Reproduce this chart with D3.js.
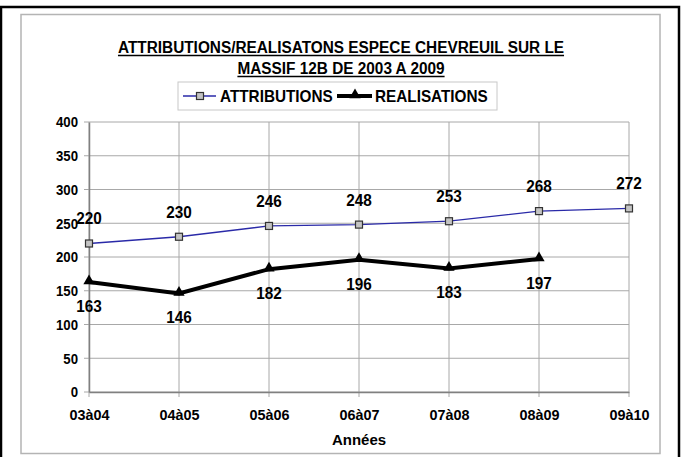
<!DOCTYPE html>
<html>
<head>
<meta charset="utf-8">
<script src="https://cdn.jsdelivr.net/npm/d3@7"></script>
<style>
  body { margin: 0; background: #fff; }
  text { font-family: "Liberation Sans", Arial, sans-serif; font-weight: bold; fill: #000; }
</style>
</head>
<body>
<div class="container"></div>
<script>
var years = ["03à04", "04à05", "05à06", "06à07", "07à08", "08à09", "09à10"];
var attributions = [220, 230, 246, 248, 253, 268, 272];
var realisations = [163, 146, 182, 196, 183, 197];
var yTicks = [0, 50, 100, 150, 200, 250, 300, 350, 400];

const WIDTH = 686;
const HEIGHT = 457;
const LEFT = 89, RIGHT = 629, TOP = 122, BOTTOM = 392;

// narrow the text a bit, the original font is condensed
var squeeze = function (sel, f) {
  sel.each(function () {
    var len = this.getComputedTextLength();
    d3.select(this).attr('textLength', len * f).attr('lengthAdjust', 'spacingAndGlyphs');
  });
};

var svg = d3.select('.container').append('svg')
  .attr('width', WIDTH)
  .attr('height', HEIGHT);

// outer frames
svg.append('rect')
  .attr('x', 1).attr('y', 7).attr('width', 678).attr('height', 460)
  .attr('fill', 'none').attr('stroke', '#000').attr('stroke-width', 2.5);
svg.append('rect')
  .attr('x', 21).attr('y', 14.5).attr('width', 639).attr('height', 439)
  .attr('fill', 'none').attr('stroke', '#b4b4b4').attr('stroke-width', 1.5);

var xScale = d3.scalePoint()
  .domain(years)
  .range([LEFT, RIGHT]);

var yScale = d3.scaleLinear()
  .domain([0, 400])
  .range([BOTTOM, TOP]);

// gridlines
svg.append('g')
  .selectAll('line')
  .data(yTicks)
  .enter().append('line')
  .attr('x1', LEFT - 5).attr('x2', RIGHT)
  .attr('y1', function(d){return yScale(d)})
  .attr('y2', function(d){return yScale(d)})
  .attr('stroke', '#a8a8a8').attr('stroke-width', 1);

svg.append('g')
  .selectAll('line')
  .data(years)
  .enter().append('line')
  .attr('x1', function(d){return xScale(d)})
  .attr('x2', function(d){return xScale(d)})
  .attr('y1', TOP).attr('y2', BOTTOM + 5)
  .attr('stroke', '#a8a8a8').attr('stroke-width', 1);

// axes
var xAxis = d3.axisBottom(xScale).tickSize(0).tickPadding(17);
var yAxis = d3.axisLeft(yScale).tickValues(yTicks).tickSize(0).tickPadding(11);

var gx = svg.append('g')
  .attr('transform', 'translate(0,' + BOTTOM + ')')
  .call(xAxis);
var gy = svg.append('g')
  .attr('transform', 'translate(' + LEFT + ',0)')
  .call(yAxis);
gx.select('.domain').attr('stroke', '#808080').attr('stroke-width', 1.5);
gy.select('.domain').attr('stroke', '#808080').attr('stroke-width', 1.5);
gx.selectAll('text').attr('font-size', 15).attr('font-family', null).attr('dy', '0.71em');
gy.selectAll('text').attr('font-size', 15).attr('font-family', null);
squeeze(gx.selectAll('text'), 0.96);
squeeze(gy.selectAll('text'), 0.88);

svg.append('text')
  .attr('x', (LEFT + RIGHT) / 2).attr('y', 445)
  .attr('text-anchor', 'middle').attr('font-size', 15)
  .text('Années');

// title
var title = svg.append('g');
var titleLines = ["ATTRIBUTIONS/REALISATONS ESPECE CHEVREUIL SUR LE", "MASSIF 12B DE 2003 A 2009"];
titleLines.forEach(function(t, i) {
  var y = 53 + i * 21;
  var txt = title.append('text')
    .attr('x', 341).attr('y', y)
    .attr('text-anchor', 'middle').attr('font-size', 16)
    .text(t);
  var w = txt.node().getComputedTextLength() * 0.96;
  squeeze(txt, 0.96);
  title.append('line')
    .attr('x1', 341 - w / 2).attr('x2', 341 + w / 2)
    .attr('y1', y + 2.5).attr('y2', y + 2.5)
    .attr('stroke', '#000').attr('stroke-width', 1.5);
});

// lines
var attrLine = d3.line()
  .x(function(d, i){return xScale(years[i])})
  .y(function(d){return yScale(d)});

svg.append('path')
  .attr('d', attrLine(attributions))
  .attr('fill', 'none').attr('stroke', '#2a2aa8').attr('stroke-width', 1.3);

svg.append('path')
  .attr('d', attrLine(realisations))
  .attr('fill', 'none').attr('stroke', '#000').attr('stroke-width', 4)
  .attr('stroke-linejoin', 'miter');

// markers
svg.append('g').selectAll('rect')
  .data(attributions)
  .enter().append('rect')
  .attr('x', function(d, i){return xScale(years[i]) - 3.5})
  .attr('y', function(d){return yScale(d) - 3.5})
  .attr('width', 7).attr('height', 7)
  .attr('fill', '#c4c4c4').attr('stroke', '#333').attr('stroke-width', 1.2);

var tri = d3.symbol().type(d3.symbolTriangle).size(55);
svg.append('g').selectAll('path')
  .data(realisations)
  .enter().append('path')
  .attr('d', tri)
  .attr('transform', function(d, i){return 'translate(' + xScale(years[i]) + ',' + (yScale(d) - 1) + ')'})
  .attr('fill', '#000');

// data labels
var labA = svg.append('g').selectAll('text')
  .data(attributions)
  .enter().append('text')
  .attr('x', function(d, i){return xScale(years[i])})
  .attr('y', function(d){return yScale(d) - 25})
  .attr('dy', '0.35em')
  .attr('text-anchor', 'middle').attr('font-size', 17)
  .text(function(d){return d});
squeeze(labA, 0.9);

var labR = svg.append('g').selectAll('text')
  .data(realisations)
  .enter().append('text')
  .attr('x', function(d, i){return xScale(years[i])})
  .attr('y', function(d){return yScale(d) + 24})
  .attr('dy', '0.35em')
  .attr('text-anchor', 'middle').attr('font-size', 17)
  .text(function(d){return d});
squeeze(labR, 0.9);

// legend
var legend = svg.append('g');
legend.append('rect')
  .attr('x', 178).attr('y', 82).attr('width', 319).attr('height', 28)
  .attr('fill', '#fff').attr('stroke', '#c8c8c8').attr('stroke-width', 1);
legend.append('line')
  .attr('x1', 183).attr('x2', 216).attr('y1', 96).attr('y2', 96)
  .attr('stroke', '#2a2aa8').attr('stroke-width', 1.3);
legend.append('rect')
  .attr('x', 196.5).attr('y', 92.5).attr('width', 7).attr('height', 7)
  .attr('fill', '#c4c4c4').attr('stroke', '#333').attr('stroke-width', 1.2);
var legA = legend.append('text')
  .attr('x', 220).attr('y', 96).attr('dy', '0.35em').attr('font-size', 17)
  .text('ATTRIBUTIONS');
squeeze(legA, 0.9);
legend.append('line')
  .attr('x1', 337).attr('x2', 372).attr('y1', 96).attr('y2', 96)
  .attr('stroke', '#000').attr('stroke-width', 4);
legend.append('path')
  .attr('d', tri)
  .attr('transform', 'translate(355,95)')
  .attr('fill', '#000');
var legR = legend.append('text')
  .attr('x', 375).attr('y', 96).attr('dy', '0.35em').attr('font-size', 17)
  .text('REALISATIONS');
squeeze(legR, 0.9);
</script>
</body>
</html>
